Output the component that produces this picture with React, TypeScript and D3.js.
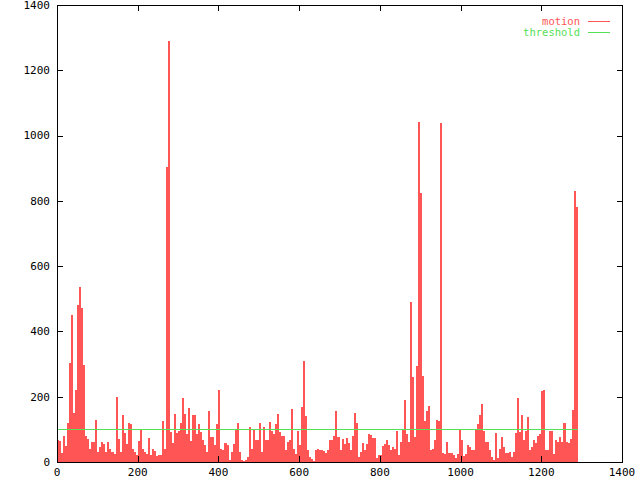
import React from "react";
import * as d3 from "d3";

// motion value per block of 5 frames (frame = index * 5)
const motion: number[] = [
  66, 65, 28, 80, 50, 118, 303, 450, 150, 220, 481, 537, 471, 297, 80, 70, 40, 60, 60, 128,
  30, 45, 60, 55, 30, 60, 40, 30, 25, 200, 70, 30, 145, 90, 55, 120, 115, 40, 30, 20,
  65, 100, 40, 30, 25, 75, 20, 40, 35, 18, 20, 22, 126, 40, 905, 1290, 93, 57, 147, 88,
  95, 118, 195, 146, 86, 165, 65, 144, 144, 86, 116, 91, 66, 51, 31, 155, 76, 76, 51, 116,
  222, 41, 36, 58, 51, 6, 31, 56, 101, 120, 31, 6, 3, 6, 16, 108, 40, 98, 68, 68,
  120, 32, 108, 68, 66, 123, 96, 86, 116, 148, 91, 81, 81, 36, 61, 66, 161, 41, 24, 94,
  51, 170, 310, 140, 36, 14, 8, 3, 38, 41, 36, 36, 34, 28, 38, 66, 68, 81, 156, 78,
  36, 71, 56, 74, 58, 38, 81, 151, 120, 14, 31, 58, 38, 54, 86, 84, 74, 74, 11, 21,
  21, 48, 56, 66, 51, 36, 46, 41, 96, 21, 61, 98, 190, 86, 61, 491, 261, 76, 294, 1042,
  825, 263, 126, 157, 171, 36, 41, 68, 130, 126, 1040, 28, 26, 62, 28, 28, 21, 11, 24, 100,
  66, 18, 24, 51, 46, 36, 36, 98, 116, 144, 178, 96, 61, 61, 36, 14, 6, 88, 11, 41,
  76, 46, 28, 28, 31, 16, 31, 90, 195, 91, 144, 66, 96, 137, 38, 46, 68, 58, 80, 86,
  216, 220, 38, 36, 95, 95, 26, 66, 61, 76, 61, 118, 61, 58, 71, 159, 830, 780,
];
const frameStep = 5;
const thresholdValue = 100;
const lastFrame = 1290;
const xTicks = [0, 200, 400, 600, 800, 1000, 1200, 1400];
const yTicks = [0, 200, 400, 600, 800, 1000, 1200, 1400];
const seriesNames = ["motion", "threshold"];

const W = 640, H = 480;
const M = { left: 57, right: 622, top: 5, bottom: 462 };
const RED = "#ff5555";
const GREEN = "#55e055";
const FONT = "'DejaVu Sans Mono', monospace";

export default function App() {
  const x = d3.scaleLinear().domain([0, 1400]).range([M.left, M.right]);
  const y = d3.scaleLinear().domain([0, 1400]).range([M.bottom, M.top]);
  const bw = x(frameStep) - x(0);
  const tick = 6;
  return (
    <svg
      width={W}
      height={H}
      style={{ position: "absolute", left: 0, top: 0, background: "#fff" }}
      fontFamily={FONT}
      fontSize={11}
    >
      <rect x={0} y={0} width={W} height={H} fill="#fff" />
      <g shapeRendering="crispEdges">
        {motion.map((v, i) => (
          <rect key={i} x={x(i * frameStep)} y={y(v)} width={bw} height={y(0) - y(v)} fill={RED} />
        ))}
      </g>
      <line
        x1={x(0)}
        x2={x(lastFrame)}
        y1={Math.round(y(thresholdValue)) + 0.5}
        y2={Math.round(y(thresholdValue)) + 0.5}
        stroke={GREEN}
        strokeWidth={1}
      />
      <g shapeRendering="crispEdges" stroke="#000" strokeWidth={1}>
        <rect x={M.left + 0.5} y={M.top + 0.5} width={M.right - M.left} height={M.bottom - M.top} fill="none" />
        {yTicks.map((t) => {
          const yy = Math.round(y(t)) + 0.5;
          return (
            <g key={"y" + t}>
              <line x1={M.left} x2={M.left + tick} y1={yy} y2={yy} />
              <line x1={M.right + 0.5 - tick} x2={M.right + 0.5} y1={yy} y2={yy} />
            </g>
          );
        })}
        {xTicks.map((t) => {
          const xx = Math.round(x(t)) + 0.5;
          return (
            <g key={"x" + t}>
              <line x1={xx} x2={xx} y1={M.bottom} y2={M.bottom - tick} />
              <line x1={xx} x2={xx} y1={M.top} y2={M.top + tick} />
            </g>
          );
        })}
      </g>
      {yTicks.map((t) => (
        <text key={"yl" + t} x={50} y={y(t)} dy="0.35em" textAnchor="end" fill="#000">
          {t}
        </text>
      ))}
      {xTicks.map((t) => (
        <text key={"xl" + t} x={x(t)} y={476} textAnchor="middle" fill="#000">
          {t}
        </text>
      ))}
      <g fontSize={10.5}>
        <text x={580} y={21.5} dy="0.33em" textAnchor="end" fill={RED}>{seriesNames[0]}</text>
        <line x1={588} x2={610} y1={21.5} y2={21.5} stroke={RED} />
        <text x={580} y={32.5} dy="0.33em" textAnchor="end" fill={GREEN}>{seriesNames[1]}</text>
        <line x1={588} x2={610} y1={32.5} y2={32.5} stroke={GREEN} />
      </g>
    </svg>
  );
}
